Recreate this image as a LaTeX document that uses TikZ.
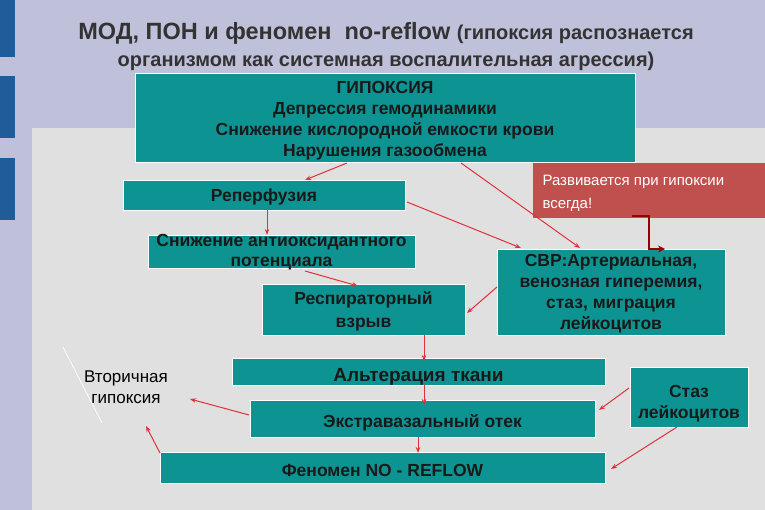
\documentclass[tikz,border=0pt]{standalone}
\usepackage{fontspec}
\setmainfont{Liberation Sans}
\usetikzlibrary{arrows.meta}
\begin{document}
\begin{tikzpicture}[x=1pt,y=-1pt,
  box/.style={draw=white,line width=0.8pt,fill=boxc,inner sep=0pt},
  txt/.style={align=center,inner sep=0pt,text=black!90,font=\fontsize{17.5}{20}\selectfont\bfseries},
  arr/.style={draw=arrc,line width=1pt,-{Stealth[length=6pt,width=4.5pt]}}]
\definecolor{bgc}{HTML}{BFC1DA}
\definecolor{panel}{HTML}{E0E0E0}
\definecolor{boxc}{HTML}{0E9393}
\definecolor{arrc}{HTML}{E0303A}
\definecolor{redb}{HTML}{C0504D}
\definecolor{barc}{HTML}{1F5C99}
\useasboundingbox (0,0) rectangle (765,510);
\fill[bgc] (0,0) rectangle (765,510);
\fill[panel] (32,128) rectangle (765,510);
\fill[barc] (0,0) rectangle (15,57);
\fill[barc] (0,76) rectangle (15,138);
\fill[barc] (0,158) rectangle (15,220);
\node[text=black!80,font=\bfseries] (t1) at (386,33) {\fontsize{23.5}{26}\selectfont МОД, ПОН и феномен\ \ no-reflow \fontsize{20}{24}\selectfont(гипоксия распознается};
\node[text=black!80,font=\bfseries\fontsize{20}{24}\selectfont] (t2) at (386,61) {организмом как системная воспалительная агрессия)};
\node[box,minimum width=500,minimum height=89] (hyp) at (385,117.5) {};
\node[txt,font=\fontsize{17.5}{21}\selectfont\bfseries] at ([yshift=-3pt]hyp.center) {ГИПОКСИЯ\\Депрессия гемодинамики\\Снижение кислородной емкости крови\\Нарушения газообмена};
\node[box,minimum width=282,minimum height=30] (rep) at (264,195) {};
\node[txt] at ([yshift=-2pt]rep.center) {Реперфузия};
\node[box,minimum width=267,minimum height=33] (snz) at (281.5,251.5) {};
\node[txt] at ([yshift=-1pt]snz.center) {Снижение антиоксидантного\\потенциала};
\node[box,minimum width=203,minimum height=51] (resp) at (363.5,309.5) {};
\node[txt,font=\fontsize{17.5}{23}\selectfont\bfseries] at ([yshift=-2pt]resp.center) {Респираторный\\взрыв};
\node[box,minimum width=228,minimum height=86] (svr) at (611,292) {};
\node[txt,font=\fontsize{17.5}{21}\selectfont\bfseries] at ([yshift=-2pt]svr.center) {СВР:Артериальная,\\венозная гиперемия,\\стаз, миграция\\лейкоцитов};
\node[box,minimum width=373,minimum height=27] (alt) at (418.5,371.5) {};
\node[txt,font=\fontsize{19}{21}\selectfont\bfseries] at ([yshift=-5pt]alt.center) {Альтерация ткани};
\node[box,minimum width=345,minimum height=37] (ext) at (422.5,418.5) {};
\node[txt] at ([yshift=-4pt]ext.center) {Экстравазальный отек};
\node[box,minimum width=445,minimum height=31] (fen) at (382.5,467.5) {};
\node[txt] at ([yshift=-3pt]fen.center) {Феномен NO - REFLOW};
\node[box,minimum width=118,minimum height=60] (staz) at (689,397) {};
\node[txt,font=\fontsize{17.5}{21}\selectfont\bfseries] at ([yshift=-7pt]staz.center) {Стаз\\лейкоцитов};
\node[fill=redb,minimum width=232,minimum height=55,inner sep=0pt] (red) at (649,190.5) {};
\node[text=white,align=left,anchor=west,font=\fontsize{15}{23}\selectfont] (redt) at (539,193) {Развивается при гипоксии\\всегда!};
\node[align=center,font=\fontsize{17}{21}\selectfont,text=black] (vt) at (126,387) {Вторичная\\гипоксия};
\coordinate (l1) at (63,347); \coordinate (l2) at (102,423);
\draw[white,line width=0.7pt] (l1) -- (l2);
\coordinate (ra) at (347,163); \coordinate (rb) at (305,180);
\draw[arr] (ra) -- (rb);
\coordinate (hb) at (461,163); \coordinate (sa) at (580,248);
\draw[arr] (hb) -- (sa);
\coordinate (rr) at (407,202); \coordinate (sb) at (521,248);
\draw[arr] (rr) -- (sb);
\coordinate (rp1) at (267,210); \coordinate (sn0) at (267,235);
\draw[arr] (rp1) -- (sn0);
\coordinate (k1) at (632,216); \coordinate (k2) at (665,249);
\draw[draw=red!60!black,line width=2pt,-{Stealth[length=7pt,width=7pt]}] (k1) -- (649,216) -- (649,249) -- (k2);
\coordinate (sn1) at (305,271); \coordinate (rs1) at (358,286);
\draw[arr] (sn1) -- (rs1);
\coordinate (sv1) at (497,287); \coordinate (rs2) at (467,313);
\draw[arr] (sv1) -- (rs2);
\coordinate (rs3) at (424,335); \coordinate (al1) at (424,361);
\draw[arr] (rs3) -- (al1);
\coordinate (al2) at (424,385); \coordinate (ex1) at (424,405);
\draw[arr] (al2) -- (ex1);
\coordinate (ex2) at (418,437); \coordinate (fe1) at (418,453);
\draw[arr] (ex2) -- (fe1);
\coordinate (e1) at (249,415); \coordinate (v1) at (190,399);
\draw[arr] (e1) -- (v1);
\coordinate (f1) at (160,453); \coordinate (v2) at (146,426);
\draw[arr] (f1) -- (v2);
\coordinate (s1) at (629,388); \coordinate (e2) at (599,410);
\draw[arr] (s1) -- (e2);
\coordinate (s2) at (677,427); \coordinate (f2) at (611,469);
\draw[arr] (s2) -- (f2);
\end{tikzpicture}
\end{document}
